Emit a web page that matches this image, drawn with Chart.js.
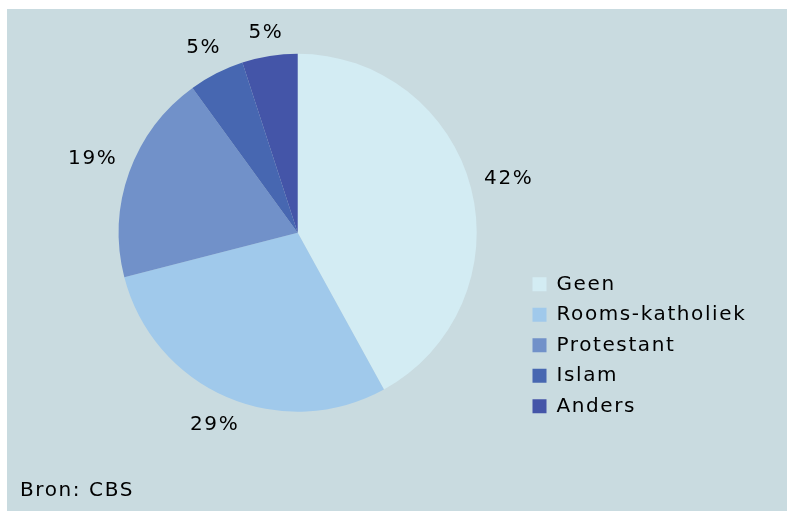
<!DOCTYPE html>
<html>
<head>
<meta charset="utf-8">
<script src="https://cdn.jsdelivr.net/npm/chart.js@4.4.1/dist/chart.umd.min.js"></script>
<style>
html,body{margin:0;padding:0;background:#ffffff;}
canvas{display:block;}
</style>
</head>
<body>
<canvas id="c" width="787" height="511"></canvas>
<script>
// ---- data ----
const categories = ['Geen', 'Rooms-katholiek', 'Protestant', 'Islam', 'Anders'];
const values = [42, 29, 19, 5, 5];
const sliceColors = ['#d3ecf3', '#a0c9eb', '#7191c9', '#4767b1', '#4455a8'];
const sourceNote = 'Bron: CBS';

const FONT = '"DejaVu Sans", Verdana, sans-serif';
const FONT_SIZE = 20;
const SPACING = '1.6px';

const panelBg = {
  id: 'panelBg',
  beforeLayout(chart) { chart.ctx.letterSpacing = SPACING; },
  beforeDraw(chart) {
    const {ctx, width, height} = chart;
    ctx.save();
    ctx.fillStyle = '#ffffff';
    ctx.fillRect(0, 0, width, height);
    ctx.fillStyle = '#c9dbe0';
    ctx.fillRect(7, 9, width - 7, height - 9);
    ctx.restore();
    ctx.letterSpacing = SPACING;
  }
};

const legendPlace = {
  id: 'legendPlace',
  afterLayout(chart) {
    const lg = chart.legend;
    if (!lg) return;
    const pad = lg.options.labels.padding;
    lg.left = 532.5 - pad;
    lg.right = lg.left + lg.width;
    lg.top = 274.3 - pad;
    lg.bottom = chart.height;
    lg.height = lg.bottom - lg.top;
  }
};

// labels sit just outside the rim, their box kept a fixed gap from the arc
const sliceLabels = {
  id: 'sliceLabels',
  afterDatasetsDraw(chart) {
    const meta = chart.getDatasetMeta(0);
    const ctx = chart.ctx;
    ctx.save();
    ctx.font = FONT_SIZE + 'px ' + FONT;
    ctx.letterSpacing = SPACING;
    ctx.fillStyle = '#000000';
    ctx.textAlign = 'center';
    ctx.textBaseline = 'middle';
    meta.data.forEach((arc, i) => {
      const p = arc.getProps(['x', 'y', 'startAngle', 'endAngle', 'outerRadius'], true);
      const a = (p.startAngle + p.endAngle) / 2;
      const txt = values[i] + '%';
      const halfW = ctx.measureText(txt).width / 2;
      const halfH = 8;
      const r = p.outerRadius + 13 + halfW * Math.abs(Math.cos(a)) + halfH * Math.abs(Math.sin(a));
      ctx.fillText(txt, p.x + Math.cos(a) * r, p.y + Math.sin(a) * r);
    });
    ctx.restore();
  }
};

new Chart(document.getElementById('c'), {
  type: 'pie',
  data: {
    labels: categories,
    datasets: [{
      data: values,
      backgroundColor: sliceColors,
      borderWidth: 0
    }]
  },
  options: {
    responsive: false,
    devicePixelRatio: 1,
    animation: false,
    layout: { padding: { left: 20, right: 211.6, top: 53.7, bottom: 0 } },
    plugins: {
      tooltip: { enabled: false },
      legend: {
        position: 'chartArea',
        align: 'start',
        labels: {
          boxWidth: 14,
          boxHeight: 14,
          padding: 10.5,
          color: '#000000',
          font: { family: FONT, size: FONT_SIZE }
        }
      },
      title: {
        display: true,
        text: sourceNote,
        position: 'bottom',
        align: 'start',
        color: '#000000',
        font: { family: FONT, size: FONT_SIZE, weight: 'normal' },
        padding: { top: 67.3, bottom: 8 }
      }
    }
  },
  plugins: [panelBg, legendPlace, sliceLabels]
});
</script>
</body>
</html>
